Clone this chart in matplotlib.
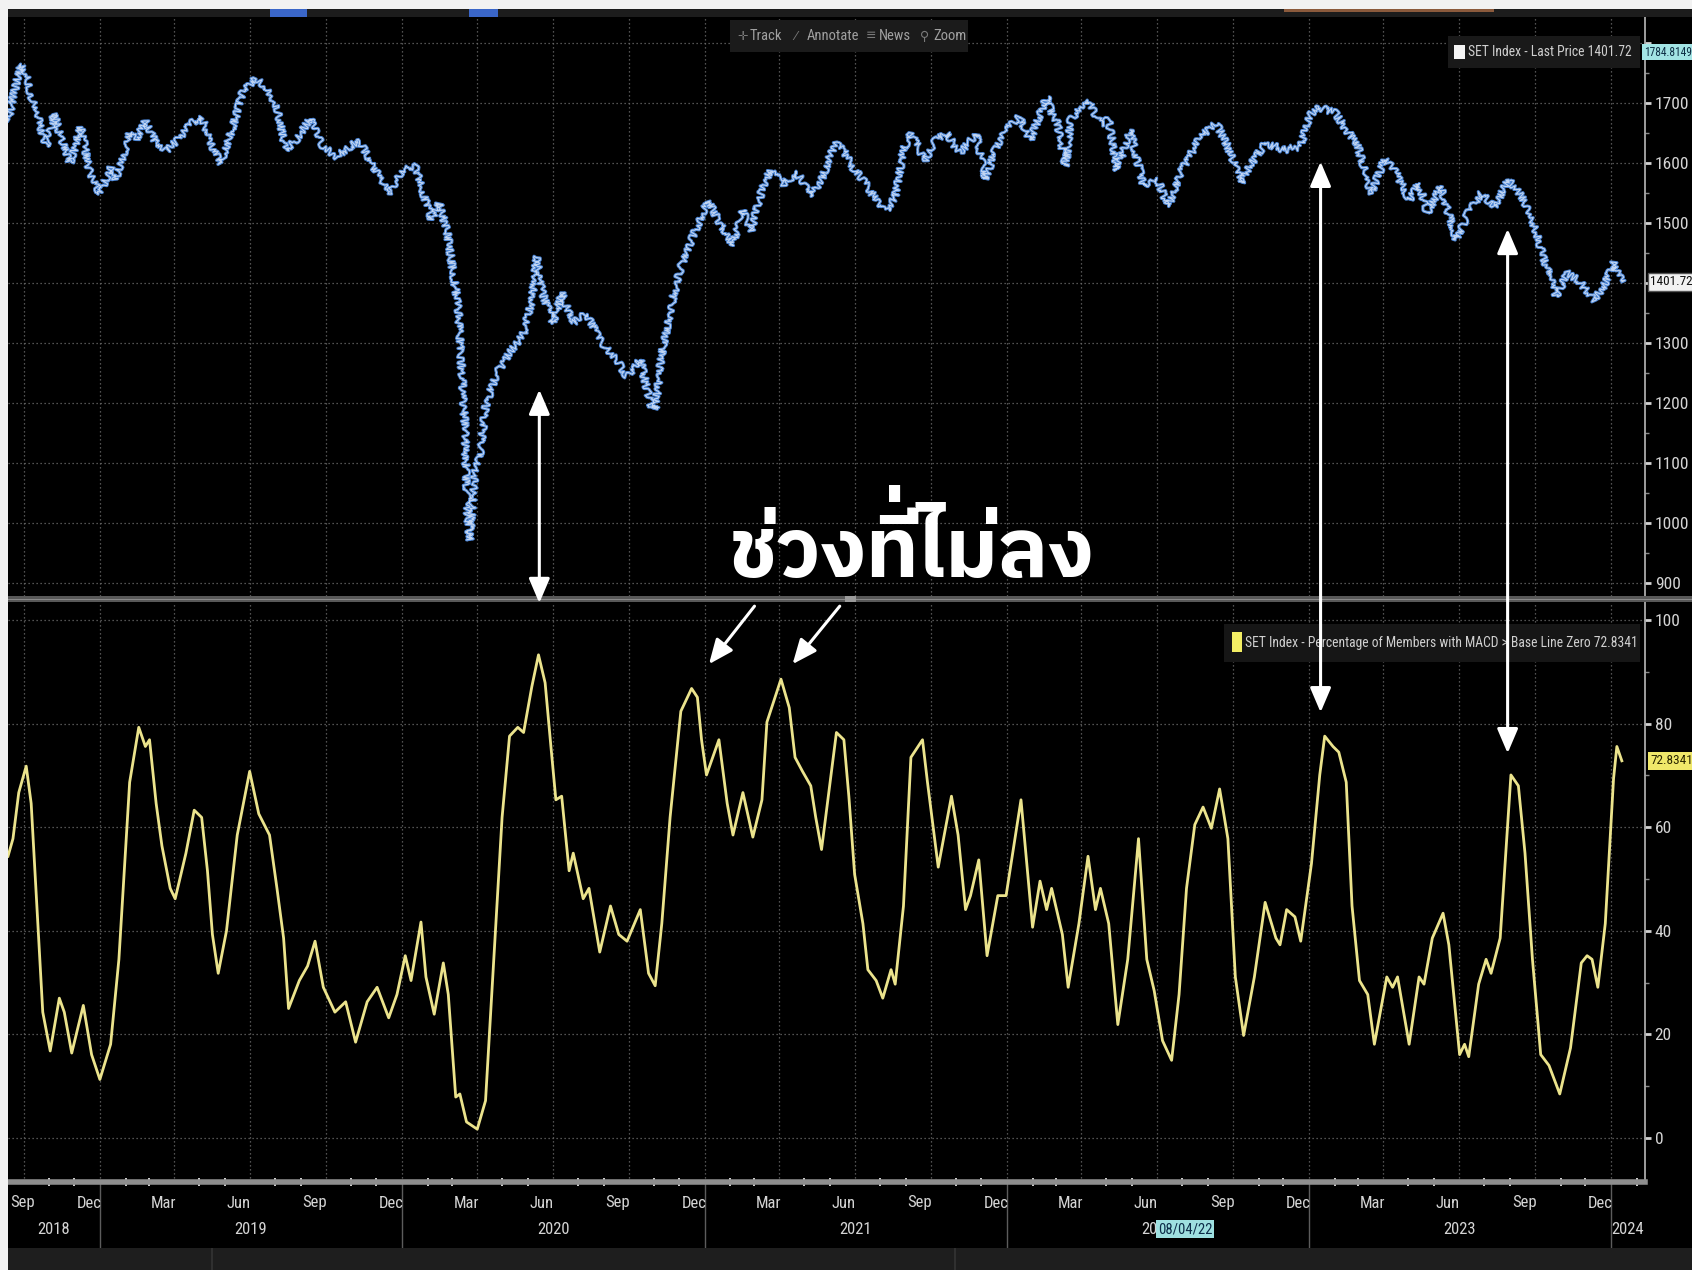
"""
Bloomberg style two panel chart: SET index price and percentage of
members with MACD above zero, with Thai annotation.
"""

import numpy as np
import matplotlib
matplotlib.use('Agg')
from matplotlib import pyplot as plt
from matplotlib import font_manager
from matplotlib.ft2font import FT2Font
from matplotlib.patches import Rectangle, ConnectionPatch, FancyArrowPatch
from matplotlib.lines import Line2D
import matplotlib.dates as mdates
import matplotlib.transforms as mtransforms

# DATA ------------------------
set_dates = ['2018-09-12', '2018-09-20', '2018-09-27', '2018-10-04', '2018-10-10', '2018-10-18',
             '2018-10-28', '2018-11-07', '2018-11-15', '2018-11-26', '2018-12-09', '2018-12-19',
             '2019-01-01', '2019-01-14', '2019-01-20', '2019-02-06', '2019-02-14', '2019-02-25',
             '2019-03-10', '2019-03-23', '2019-04-05', '2019-04-21', '2019-05-04', '2019-05-17',
             '2019-05-27', '2019-06-12', '2019-06-22', '2019-07-08', '2019-07-21', '2019-08-03',
             '2019-08-13', '2019-08-26', '2019-09-12', '2019-09-28', '2019-10-14', '2019-11-10',
             '2019-12-02', '2019-12-16', '2020-01-01', '2020-01-17', '2020-02-06', '2020-02-15',
             '2020-02-25', '2020-03-03', '2020-03-09', '2020-03-12', '2020-03-17', '2020-03-20',
             '2020-03-23', '2020-03-29', '2020-04-04', '2020-04-11', '2020-04-24', '2020-05-10',
             '2020-05-27', '2020-06-06', '2020-06-12', '2020-06-19', '2020-07-02', '2020-07-12',
             '2020-07-25', '2020-08-11', '2020-08-27', '2020-09-16', '2020-09-29', '2020-10-15',
             '2020-10-28', '2020-11-02', '2020-11-10', '2020-11-23', '2020-12-03', '2020-12-19',
             '2021-01-05', '2021-01-21', '2021-02-03', '2021-02-16', '2021-02-26', '2021-03-11',
             '2021-03-21', '2021-04-06', '2021-04-23', '2021-05-09', '2021-05-22', '2021-06-07',
             '2021-06-18', '2021-06-28', '2021-07-14', '2021-07-27', '2021-08-09', '2021-08-19',
             '2021-08-29', '2021-09-07', '2021-09-24', '2021-10-07', '2021-10-20', '2021-11-05',
             '2021-11-25', '2021-12-06', '2021-12-18', '2021-12-31', '2022-01-16', '2022-01-29',
             '2022-02-18', '2022-02-24', '2022-03-03', '2022-03-13', '2022-03-19', '2022-04-08',
             '2022-04-24', '2022-05-04', '2022-05-14', '2022-05-30', '2022-06-15', '2022-07-02',
             '2022-07-15', '2022-07-31', '2022-08-23', '2022-09-11', '2022-09-25', '2022-10-11',
             '2022-10-21', '2022-11-09', '2022-12-02', '2022-12-22', '2023-01-01', '2023-01-11',
             '2023-02-02', '2023-02-15', '2023-02-28', '2023-03-17', '2023-04-02', '2023-04-15',
             '2023-05-02', '2023-05-14', '2023-05-24', '2023-06-09', '2023-06-28', '2023-07-12',
             '2023-07-28', '2023-08-13', '2023-08-30', '2023-09-15', '2023-09-28', '2023-10-11',
             '2023-10-27', '2023-11-09', '2023-11-22', '2023-12-12', '2023-12-25', '2024-01-04',
             '2024-01-14']
set_price = [1670, 1720, 1765, 1750, 1712, 1677,
             1627, 1683, 1640, 1600, 1660, 1588,
             1549, 1591, 1572, 1649, 1640, 1669,
             1633, 1622, 1638, 1666, 1677, 1627,
             1600, 1666, 1716, 1741, 1727, 1694,
             1622, 1638, 1674, 1627, 1611, 1638,
             1583, 1549, 1588, 1594, 1505, 1533,
             1483, 1416, 1361, 1283, 1166, 1016,
             972, 1083, 1110, 1194, 1249, 1283,
             1316, 1372, 1444, 1383, 1333, 1383,
             1333, 1349, 1305, 1272, 1244, 1272,
             1194, 1188, 1283, 1372, 1427, 1483,
             1538, 1494, 1461, 1522, 1488, 1555,
             1588, 1566, 1583, 1544, 1572, 1633,
             1620, 1594, 1566, 1538, 1522, 1544,
             1622, 1649, 1605, 1638, 1649, 1616,
             1649, 1572, 1622, 1655, 1677, 1638,
             1711, 1683, 1666, 1594, 1672, 1705,
             1666, 1672, 1588, 1655, 1561, 1572,
             1527, 1588, 1644, 1666, 1627, 1566,
             1594, 1633, 1622, 1627, 1677, 1694,
             1683, 1655, 1633, 1549, 1605, 1588,
             1538, 1566, 1516, 1561, 1472, 1516,
             1549, 1527, 1572, 1544, 1505, 1444,
             1377, 1416, 1405, 1372, 1399, 1433,
             1401.72]

macd_dates = ['2018-09-12', '2018-09-18', '2018-09-25', '2018-10-04', '2018-10-10', '2018-10-18',
              '2018-10-24', '2018-11-02', '2018-11-13', '2018-11-19', '2018-11-28', '2018-12-12',
              '2018-12-22', '2019-01-01', '2019-01-14', '2019-01-24', '2019-02-06', '2019-02-17',
              '2019-02-25', '2019-03-02', '2019-03-10', '2019-03-17', '2019-03-27', '2019-04-02',
              '2019-04-15', '2019-04-25', '2019-05-04', '2019-05-11', '2019-05-17', '2019-05-24',
              '2019-06-03', '2019-06-16', '2019-07-01', '2019-07-12', '2019-07-25', '2019-08-03',
              '2019-08-11', '2019-08-17', '2019-08-30', '2019-09-09', '2019-09-18', '2019-09-28',
              '2019-10-12', '2019-10-25', '2019-11-06', '2019-11-20', '2019-12-02', '2019-12-16',
              '2019-12-26', '2020-01-05', '2020-01-12', '2020-01-24', '2020-01-30', '2020-02-09',
              '2020-02-20', '2020-02-26', '2020-03-06', '2020-03-11', '2020-03-19', '2020-04-01',
              '2020-04-11', '2020-04-21', '2020-05-01', '2020-05-10', '2020-05-20', '2020-05-27',
              '2020-06-06', '2020-06-14', '2020-06-22', '2020-06-29', '2020-07-05', '2020-07-12',
              '2020-07-21', '2020-07-26', '2020-08-07', '2020-08-14', '2020-08-27', '2020-09-09',
              '2020-09-19', '2020-09-29', '2020-10-15', '2020-10-25', '2020-11-02', '2020-11-10',
              '2020-11-20', '2020-12-03', '2020-12-16', '2020-12-23', '2020-12-28', '2021-01-03',
              '2021-01-18', '2021-01-28', '2021-02-04', '2021-02-16', '2021-02-28', '2021-03-11',
              '2021-03-17', '2021-04-03', '2021-04-13', '2021-04-20', '2021-04-29', '2021-05-09',
              '2021-05-15', '2021-05-22', '2021-06-09', '2021-06-18', '2021-06-24', '2021-07-01',
              '2021-07-11', '2021-07-17', '2021-07-27', '2021-08-04', '2021-08-14', '2021-08-19',
              '2021-08-29', '2021-09-07', '2021-09-21', '2021-09-27', '2021-10-10', '2021-10-26',
              '2021-11-03', '2021-11-12', '2021-11-18', '2021-11-28', '2021-12-08', '2021-12-21',
              '2021-12-31', '2022-01-18', '2022-02-01', '2022-02-10', '2022-02-18', '2022-02-24',
              '2022-03-09', '2022-03-16', '2022-03-29', '2022-04-09', '2022-04-18', '2022-04-24',
              '2022-05-04', '2022-05-15', '2022-05-27', '2022-06-09', '2022-06-19', '2022-06-28',
              '2022-07-08', '2022-07-19', '2022-07-28', '2022-08-06', '2022-08-16', '2022-08-26',
              '2022-09-05', '2022-09-15', '2022-09-25', '2022-10-04', '2022-10-14', '2022-10-27',
              '2022-11-09', '2022-11-22', '2022-11-27', '2022-12-05', '2022-12-15', '2022-12-22',
              '2023-01-04', '2023-01-14', '2023-01-20', '2023-01-30', '2023-02-06', '2023-02-15',
              '2023-02-22', '2023-03-03', '2023-03-13', '2023-03-21', '2023-04-05', '2023-04-12',
              '2023-04-18', '2023-05-02', '2023-05-14', '2023-05-20', '2023-05-30', '2023-06-12',
              '2023-06-19', '2023-07-02', '2023-07-08', '2023-07-13', '2023-07-25', '2023-08-03',
              '2023-08-09', '2023-08-20', '2023-09-02', '2023-09-11', '2023-09-19', '2023-09-28',
              '2023-10-08', '2023-10-18', '2023-10-31', '2023-11-13', '2023-11-26', '2023-12-03',
              '2023-12-09', '2023-12-16', '2023-12-25', '2024-01-04', '2024-01-08', '2024-01-14']
macd_pct = [54.4, 57.8, 66.7, 71.8, 64.6, 41.4,
            24.3, 16.8, 27.0, 24.3, 16.4, 25.6,
            16.1, 11.3, 18.1, 34.5, 68.7, 79.3,
            75.6, 76.9, 64.6, 56.4, 48.2, 46.2,
            55.0, 63.3, 61.9, 51.6, 39.3, 31.8,
            40.0, 58.5, 70.8, 62.6, 58.5, 48.2,
            38.6, 25.0, 30.4, 33.2, 38.0, 29.1,
            24.3, 26.3, 18.5, 26.3, 29.1, 23.2,
            27.7, 35.2, 30.4, 41.7, 31.1, 23.9,
            33.8, 27.7, 7.9, 8.5, 3.1, 1.7,
            7.2, 34.5, 61.9, 77.6, 79.3, 78.3,
            87.2, 93.3, 87.9, 75.6, 65.3, 66.0,
            51.6, 55.0, 46.2, 48.2, 35.9, 44.8,
            39.3, 38.0, 44.1, 31.8, 29.4, 41.4,
            61.9, 82.4, 86.8, 85.1, 76.9, 70.1,
            76.9, 64.6, 58.5, 66.7, 58.1, 65.3,
            80.3, 88.6, 83.1, 73.5, 70.8, 68.0,
            61.9, 55.7, 78.3, 76.9, 66.0, 50.9,
            41.4, 32.5, 30.4, 27.0, 32.5, 29.7,
            44.8, 73.5, 76.9, 68.7, 52.3, 66.0,
            58.5, 44.1, 46.8, 53.7, 35.2, 46.8,
            46.8, 65.3, 40.7, 49.6, 44.1, 48.2,
            39.3, 29.1, 41.4, 54.4, 44.1, 48.2,
            41.4, 21.9, 34.5, 57.8, 34.5, 28.4,
            18.8, 15.0, 27.7, 48.2, 60.5, 63.9,
            59.8, 67.4, 57.8, 31.1, 19.8, 31.1,
            45.5, 38.6, 37.3, 44.1, 42.7, 38.0,
            53.0, 70.1, 77.6, 75.6, 74.5, 68.7,
            44.8, 30.4, 27.7, 18.1, 31.1, 29.1,
            31.1, 18.1, 31.1, 29.7, 38.6, 43.4,
            37.3, 16.1, 18.1, 15.7, 29.7, 34.5,
            31.8, 38.6, 70.1, 68.0, 55.0, 34.5,
            16.1, 14.0, 8.5, 17.4, 33.8, 35.2,
            34.5, 29.1, 41.4, 69.4, 75.6, 72.8341]

price_ticks   = [900, 1000, 1100, 1200, 1300, 1400, 1500, 1600, 1700, 1800]
price_hidden  = [1400, 1800]          # labels covered by value tags in the original
pct_ticks     = [0, 20, 40, 60, 80, 100]
high_price    = 1784.8149
last_price    = 1401.72
last_pct      = 72.8341
title_text    = 'ช่วงที่ไม่ลง'
legend_top    = 'SET Index - Last Price 1401.72'
legend_bottom = 'SET Index - Percentage of Members with MACD > Base Line Zero 72.8341'
cursor_date   = '08/04/22'
toolbar_icons = ['\u271b', '\u2044', '\u2261', '\u26b2']
toolbar_words = ['Track', 'Annotate', 'News', 'Zoom']

# vertical double arrows: date, price tip (top panel), percent tip (bottom panel)
arrows_v = [('2020-06-15', 1222, 103.3), ('2023-01-15', 1602, 82.2), ('2023-08-29', 1490, 74.3)]
# diagonal arrows in bottom panel: (start date, start pct, end date, end pct)
arrows_d = [('2021-03-02', 102.7, '2021-01-06', 91.5), ('2021-06-13', 102.7, '2021-04-17', 91.5)]
# -----------------------------

# fonts
def pick_family(candidates, fallback='DejaVu Sans'):
    names = {f.name for f in font_manager.fontManager.ttflist}
    for c in candidates:
        if c in names:
            return c
    return fallback

def find_thai_font():
    hits = []
    for f in font_manager.fontManager.ttflist:
        if not f.fname.lower().endswith(('.ttf', '.otf')):
            continue
        try:
            cmap = FT2Font(f.fname).get_charmap()
        except Exception:
            continue
        if 0x0E0A in cmap:
            hits.append(f)
    if not hits:
        return None
    def score(f):
        w = f.weight if isinstance(f.weight, int) else {'bold': 700}.get(f.weight, 400)
        s = -abs(w - 700)
        if 'sans' in f.name.lower():
            s += 50
        if 'looped' in f.name.lower() or ' ui' in f.name.lower():
            s -= 20
        if f.style != 'normal':
            s -= 100
        return s
    return max(hits, key=score)

narrow    = pick_family(['Roboto Condensed', 'Liberation Sans Narrow', 'DejaVu Sans'])
thai_font = find_thai_font()
if thai_font is not None:
    thai_fp = font_manager.FontProperties(fname=thai_font.fname)
else:
    thai_fp = font_manager.FontProperties(family='DejaVu Sans', weight='bold')

# geometry in pixels of the 1692x1270 canvas
W, H = 1692, 1270
def fx(px): return px / W
def fy(py): return 1 - py / H

def box(x0, y0, x1, y1, color, z=2):
    fig.add_artist(Rectangle((fx(x0), fy(y1)), (x1 - x0) / W, (y1 - y0) / H,
                             transform=fig.transFigure, facecolor=color,
                             edgecolor='none', zorder=z))

d_set  = np.array(set_dates, dtype='datetime64[D]')
d_macd = np.array(macd_dates, dtype='datetime64[D]')
x_left, x_right = np.datetime64('2018-09-12'), np.datetime64('2024-02-11')
quarters = np.arange('2018-10', '2024-02', 3, dtype='datetime64[M]').astype('datetime64[D]')
months   = np.arange('2018-10', '2024-03', 1, dtype='datetime64[M]').astype('datetime64[D]')
mnames   = ['Jan', 'Feb', 'Mar', 'Apr', 'May', 'Jun', 'Jul', 'Aug', 'Sep', 'Oct', 'Nov', 'Dec']

grid_kw = dict(color='#6c6c6c', lw=0.9, ls=(0, (1, 2.2)))
lab_col = '#d4d4d4'

fig = plt.figure(figsize=(W / 100, H / 100), dpi=100, facecolor='black')
ax1 = fig.add_axes([fx(8), fy(596), fx(1645) - fx(8), fy(16) - fy(596)])
ax2 = fig.add_axes([fx(8), fy(1182), fx(1645) - fx(8), fy(602) - fy(1182)])

# top panel: price, drawn rough like the daily closes of the original
# (same sketch settings on both strokes so the white core follows the blue one)
sketch = dict(scale=3.5, length=7, randomness=12)
l_blue, = ax1.plot(d_set, set_price, color='#4a84d4', lw=2.2, zorder=3)
l_white, = ax1.plot(d_set, set_price, color='#f4f8ff', lw=0.8, alpha=0.7, zorder=4)
for ln in (l_blue, l_white):
    ln.set_sketch_params(**sketch)
ax1.set_ylim(878, 1845)
ax1.set_yticks(price_ticks)
ax1.set_yticklabels(['' if t in price_hidden else str(t) for t in price_ticks])
ax1.set_yticks(np.arange(950, 1800, 100), minor=True)

# bottom panel: percentage
ax2.plot(d_macd, macd_pct, color='#ebe38c', lw=2.0, solid_joinstyle='round', zorder=3)
ax2.set_ylim(-8.5, 103.5)
ax2.set_yticks(pct_ticks)
ax2.set_yticks(np.arange(10, 100, 20), minor=True)

for ax in (ax1, ax2):
    ax.set_facecolor('black')
    ax.set_xlim(x_left, x_right)
    ax.set_xticks(quarters)
    ax.set_xticks(months, minor=True)
    ax.set_xticklabels([])
    ax.grid(True, which='major', **grid_kw)
    ax.yaxis.tick_right()
    ax.tick_params(axis='y', which='major', length=4, width=2, color='#d0d0d0', pad=3,
                   labelsize=12.5, labelcolor=lab_col, direction='out')
    ax.tick_params(axis='y', which='minor', length=3, width=1, color='#8a8a8a')
    for lab in ax.get_yticklabels():
        lab.set_fontfamily(narrow)
    for s in ('top', 'left', 'bottom'):
        ax.spines[s].set_visible(False)
    ax.spines['right'].set_color('#b8b8b8')
    ax.spines['right'].set_linewidth(1.2)

ax1.tick_params(axis='x', which='both', length=0)
ax2.spines['bottom'].set_visible(True)
ax2.spines['bottom'].set_color('#8e8e8e')
ax2.spines['bottom'].set_linewidth(4)
ax2.tick_params(axis='x', which='major', length=0)
ax2.tick_params(axis='x', which='minor', length=6, width=1.3, color='#e2e2e2', direction='inout')

# month and year labels
tr = mtransforms.blended_transform_factory(ax2.transData, fig.transFigure)
for q in quarters:
    m = int(str(q)[5:7]) - 2
    xc = max(q - np.timedelta64(13, 'D'), x_left + np.timedelta64(17, 'D'))
    ax2.text(xc, fy(1203), mnames[m], transform=tr, ha='center',
             va='center', fontsize=12, color=lab_col, family=narrow)
for yr in range(2018, 2025):
    y0 = max(np.datetime64(f'{yr}-01-01'), x_left)
    y1 = min(np.datetime64(f'{yr + 1}-01-01'), x_right)
    mid = y0 + (y1 - y0) // 2
    ax2.text(mid, fy(1229), str(yr), transform=tr, ha='center', va='center',
             fontsize=12, color=lab_col, family=narrow)
    if yr > 2018:
        ax2.add_line(Line2D([y0, y0], [fy(1184), fy(1247)], transform=tr, color='#5c5c5c',
                            lw=1, clip_on=False))

# value tags on the right axis
tr1 = mtransforms.blended_transform_factory(ax1.transAxes, ax1.transData)
tr2 = mtransforms.blended_transform_factory(ax2.transAxes, ax2.transData)
tag = dict(ha='left', va='center', family=narrow, clip_on=False, zorder=10)
ax1.text(1.0 - 1 / 1637, high_price, '1784.8149', transform=tr1, color='#0e2f45', fontsize=8.3,
         bbox=dict(boxstyle='square,pad=0.15', fc='#a2e4e4', ec='none'), **tag)
ax1.text(1.0 + 5 / 1637, last_price, f'{last_price:.2f}', transform=tr1, color='#111111',
         fontsize=9.5, bbox=dict(boxstyle='square,pad=0.18', fc='#f2f2f2', ec='#555555'), **tag)
ax2.text(1.0 + 5 / 1637, last_pct, f'{last_pct:.4f}', transform=tr2, color='#2a2600',
         fontsize=9.5, bbox=dict(boxstyle='square,pad=0.18', fc='#f0e86a', ec='none'), **tag)

# arrows
akw = dict(color='white', lw=2.2, shrinkA=0, shrinkB=0, mutation_scale=20, zorder=8)
for d, p_top, p_bot in arrows_v:
    xd = mdates.date2num(np.datetime64(d))
    fig.add_artist(ConnectionPatch(xyA=(xd, p_top), coordsA=ax1.transData,
                                   xyB=(xd, p_bot), coordsB=ax2.transData,
                                   arrowstyle='<|-|>,head_length=0.75,head_width=0.32', **akw))
for d0, p0, d1, p1 in arrows_d:
    ax2.add_patch(FancyArrowPatch((mdates.date2num(np.datetime64(d0)), p0),
                                  (mdates.date2num(np.datetime64(d1)), p1),
                                  arrowstyle='-|>,head_length=0.75,head_width=0.32',
                                  clip_on=False, **akw))

# frame: white edges, header band, separator, bottom bar
box(0, 0, 8, H, '#f2f2f2', z=5)
box(0, 0, W, 9, '#f2f2f2', z=5)
box(8, 9, W, 17, '#1c1c1c')
box(270, 9, 307, 17, '#3a66c8', z=3)
box(469, 9, 498, 17, '#3a66c8', z=3)
box(1284, 9, 1494, 12, '#8b5a3c', z=3)
box(8, 596, W, 602, '#585858')
box(8, 598.5, W, 599.5, '#8a8a8a', z=3)
box(845, 596, 856, 602, '#9a9a9a', z=3)
box(8, 1248, W, H, '#1e1e1e')
box(211, 1248, 213, H, '#303030', z=3)
box(954, 1248, 956, H, '#303030', z=3)

# cursor date tag
fig.text(fx(1185), fy(1229), cursor_date, ha='center', va='center', fontsize=10.5, family=narrow,
         color='#0c2c48', bbox=dict(boxstyle='square,pad=0.15', fc='#9ee0e0', ec='none'), zorder=6)

# toolbar
box(730, 20, 968, 52, '#1b1b1b')
for x, icon, word in zip([737, 794, 866, 920], toolbar_icons, toolbar_words):
    fig.text(fx(x), fy(36), icon, ha='left', va='center', fontsize=9, family='DejaVu Sans',
             color='#7a7a7a', zorder=6)
    fig.text(fx(x + 13), fy(36), word, ha='left', va='center', fontsize=10.5, family=narrow,
             color='#a0a0a0', zorder=6)

# legends
box(1448, 36, 1640, 68, '#191919')
box(1454, 45, 1465, 59, '#f4f4f4', z=3)
fig.text(fx(1468), fy(52), legend_top, ha='left', va='center', fontsize=9.8, family=narrow,
         color='#d0d0d0', zorder=6)
box(1224, 624, 1640, 662, '#161616')
box(1232, 632, 1242, 652, '#f3ee64', z=3)
fig.text(fx(1245), fy(643), legend_bottom, ha='left', va='center', fontsize=9.8, family=narrow,
         color='#d0d0d0', zorder=6)

# Thai heading; matplotlib does not stack the tone mark over the upper vowel,
# so the mark of the third syllable is set as its own text, raised above it
title_size = 60
em = title_size * 100 / 72
main_text = title_text.replace('ที่', 'ที', 1)
t_main = fig.text(fx(912), fy(577), main_text, ha='center', va='baseline', color='white',
                  fontproperties=thai_fp, fontsize=title_size, zorder=7)
renderer = fig.canvas.get_renderer()

def ink_width(s):
    t = fig.text(0, 0, s, fontproperties=thai_fp, fontsize=title_size)
    w = t.get_window_extent(renderer=renderer).width
    t.remove()
    return w

bb = t_main.get_window_extent(renderer=renderer)
w_pre = ink_width(title_text[:title_text.index('ที่') + 1])
mark = '\u00a0\u0e48'                      # mark on a no-break space so the text has a width
shift = ink_width(mark) - ink_width('\u0e48')
x_mark = bb.x0 + w_pre - 0.22 * em - shift
y_mark = fy(577) * H + 0.27 * em
fig.text(x_mark / W, y_mark / H, mark, ha='left', va='baseline', color='white',
         fontproperties=thai_fp, fontsize=title_size, zorder=7)

fig.savefig('out.png', dpi=100, facecolor='black')
